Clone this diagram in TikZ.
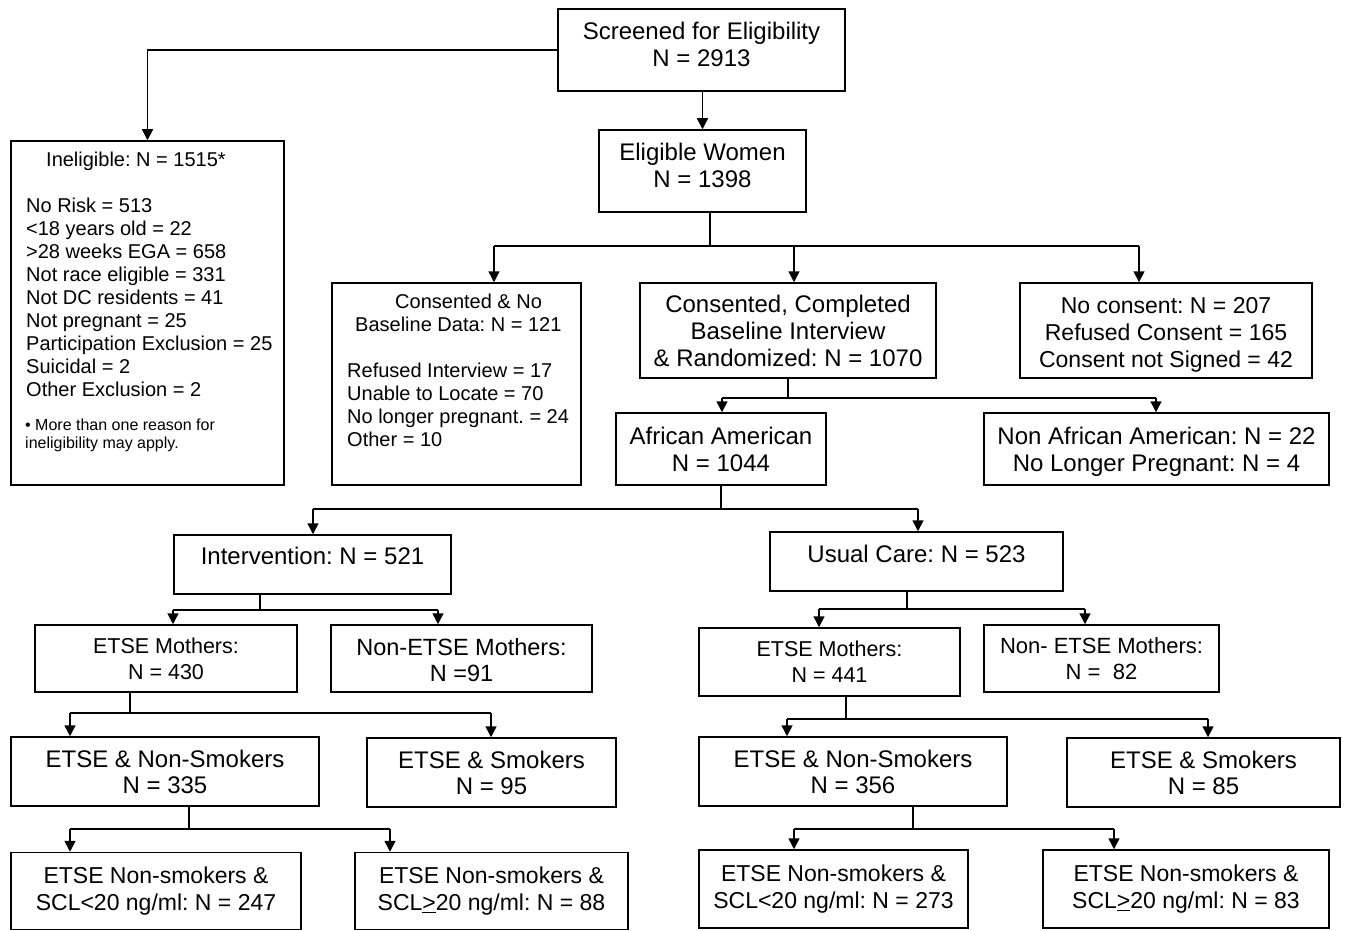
\documentclass[tikz,border=0pt]{standalone}
\usepackage{fontspec}
\setmainfont{Liberation Sans}
\usetikzlibrary{arrows.meta}
\newcommand{\fsz}[2]{\fontsize{#1}{#2}\selectfont}
\tikzset{
 box/.style={draw, line width=1.5pt, rectangle, inner sep=0pt, align=center, font=\fsz{24}{27}},
 btxt/.style={inner sep=0pt, align=center, font=\fsz{24}{27}},
 conn/.style={line width=1.5pt},
 arr/.style={line width=1.5pt, -{Triangle[width=11pt,length=11pt]}},
 txt/.style={inner sep=0pt, anchor=north west, align=left},
}
\begin{document}
\frenchspacing
\begin{tikzpicture}[x=1pt,y=-1pt]
\fill[white] (0,0) rectangle (1346,931);
\useasboundingbox (0,0) rectangle (1346,931);
% boxes
\node[box, minimum width=287pt, minimum height=82pt] (scr) at (701.5,50) {};
\node[btxt] (scrT) at (701.5,44) {Screened for Eligibility\\N = 2913};
\node[box, minimum width=207pt, minimum height=82pt] (elig) at (702.5,171) {};
\node[btxt] (eligT) at (702.5,165) {Eligible Women\\N = 1398};
\node[box, minimum width=273pt, minimum height=344pt] (inel) at (147.5,313) {};
\node[txt, font=\fsz{20}{23}] (ineltext) at (26,152) {\hspace*{20pt}Ineligible: N = 1515*\\[23pt]
No Risk = 513\\
<18 years old = 22\\
>28 weeks EGA = 658\\
Not race eligible = 331\\
Not DC residents = 41\\
Not pregnant = 25\\
Participation Exclusion = 25\\
Suicidal = 2\\
Other Exclusion = 2};
\node[txt, font=\fsz{16}{18}] (inelnote) at (25,419) {\textbullet{} More than one reason for\\ineligibility may apply.};
\node[box, minimum width=249pt, minimum height=202pt] (cnb) at (456.5,384) {};
\node[txt, font=\fsz{20}{23}] (cnbtext) at (347,294) {\hspace*{48pt}Consented \& No\\
\hspace*{8pt}Baseline Data: N = 121\\[23pt]
Refused Interview = 17\\
Unable to Locate = 70\\
No longer pregnant. = 24\\
Other = 10};
\node[box, minimum width=296pt, minimum height=95pt] (ccb) at (788,330.5) {Consented, Completed\\Baseline Interview\\\& Randomized: N = 1070};
\node[box, minimum width=292pt, minimum height=95pt] (nc) at (1166,330.5) {};
\node[btxt, font=\fsz{23}{27}] (ncT) at (1166,334.5) {No consent: N = 207\\Refused Consent = 165\\Consent not Signed = 42};
\node[box, minimum width=210pt, minimum height=72pt] (aa) at (721,449) {African American\\N = 1044};
\node[box, minimum width=345pt, minimum height=72pt] (naa) at (1156.5,449) {};
\node[btxt] (naaT) at (1156.5,451.5) {Non African American: N = 22\\No Longer Pregnant: N = 4};
\node[box, minimum width=277pt, minimum height=59pt] (int) at (312.5,564.5) {};
\node[btxt] (intT) at (312.5,555.5) {Intervention: N = 521};
\node[box, minimum width=293pt, minimum height=59pt] (uc) at (916.5,561.5) {};
\node[btxt] (ucT) at (916.5,553.5) {Usual Care: N = 523};
\node[box, minimum width=262pt, minimum height=67pt, font=\fsz{21.5}{26}] (em1) at (166,658.5) {ETSE Mothers:\\N = 430};
\node[box, minimum width=261pt, minimum height=67pt] (nem1) at (461.5,658.5) {};
\node[btxt, font=\fsz{23.5}{26}] (nem1T) at (461.5,660) {Non-ETSE Mothers:\\N =91};
\node[box, minimum width=261pt, minimum height=68pt, font=\fsz{21.5}{26}] (em2) at (829.5,662) {ETSE Mothers:\\N = 441};
\node[box, minimum width=235pt, minimum height=67pt, font=\fsz{22}{26}] (nem2) at (1101.5,658.5) {Non- ETSE Mothers:\\N = \ 82};
\node[box, minimum width=308pt, minimum height=69pt, font=\fsz{24}{26}] (ns1) at (165,771.5) {ETSE \& Non-Smokers\\N = 335};
\node[box, minimum width=249pt, minimum height=69pt, font=\fsz{24}{26}] (s1) at (491.5,772.5) {ETSE \& Smokers\\N = 95};
\node[box, minimum width=308pt, minimum height=69pt, font=\fsz{24}{26}] (ns2) at (853,771.5) {ETSE \& Non-Smokers\\N = 356};
\node[box, minimum width=273pt, minimum height=69pt, font=\fsz{24}{26}] (s2) at (1203.5,772.5) {ETSE \& Smokers\\N = 85};
\node[box, minimum width=290pt, minimum height=77pt, font=\fsz{23}{27}] (b1) at (156,891) {ETSE Non-smokers \&\\SCL<20 ng/ml: N = 247};
\node[box, minimum width=273pt, minimum height=77pt, font=\fsz{23}{27}] (b2) at (491.5,891) {ETSE Non-smokers \&\\SCL\underline{>}20 ng/ml: N = 88};
\node[box, minimum width=269pt, minimum height=78pt, font=\fsz{23}{27}] (b3) at (833.5,889) {ETSE Non-smokers \&\\SCL<20 ng/ml: N = 273};
\node[box, minimum width=286pt, minimum height=78pt, font=\fsz{23}{27}] (b4) at (1186,889) {ETSE Non-smokers \&\\SCL\underline{>}20 ng/ml: N = 83};
% connectors
\draw[arr] (scr.west) -| (inel.north);
\draw[arr] (scr.south -| elig.north) -- (elig.north);
% T1
\coordinate (t1) at (710,246);
\coordinate (t1a) at (494,246);
\coordinate (t1b) at (794,246);
\coordinate (t1c) at (1139,246);
\draw[conn] (elig.south -| t1) -- (t1);
\draw[conn] (t1a) -- (t1c);
\draw[arr] (t1a) -- (t1a |- cnb.north);
\draw[arr] (t1b) -- (t1b |- ccb.north);
\draw[arr] (t1c) -- (t1c |- nc.north);
% T2
\coordinate (t2a) at (722,398);
\coordinate (t2c) at (1156,398);
\draw[conn] (ccb.south) -- (ccb.south |- t2a);
\draw[conn] (t2a) -- (t2c);
\draw[arr] (t2a) -- (t2a |- aa.north);
\draw[arr] (t2c) -- (t2c |- naa.north);
% T3
\coordinate (t3a) at (313,509);
\coordinate (t3c) at (918,509);
\draw[conn] (aa.south) -- (aa.south |- t3a);
\draw[conn] (t3a) -- (t3c);
\draw[arr] (t3a) -- (t3a |- int.north);
\draw[arr] (t3c) -- (t3c |- uc.north);
% T4
\coordinate (t4) at (260,610);
\coordinate (t4a) at (173,610);
\coordinate (t4c) at (438,610);
\draw[conn] (int.south -| t4) -- (t4);
\draw[conn] (t4a) -- (t4c);
\draw[arr] (t4a) -- (t4a |- em1.north);
\draw[arr] (t4c) -- (t4c |- nem1.north);
% T5
\coordinate (t5) at (907,609);
\coordinate (t5a) at (819,609);
\coordinate (t5c) at (1085,609);
\draw[conn] (uc.south -| t5) -- (t5);
\draw[conn] (t5a) -- (t5c);
\draw[arr] (t5a) -- (t5a |- em2.north);
\draw[arr] (t5c) -- (t5c |- nem2.north);
% T6
\coordinate (t6) at (130,713);
\coordinate (t6a) at (70,713);
\coordinate (t6c) at (491,713);
\draw[conn] (em1.south -| t6) -- (t6);
\draw[conn] (t6a) -- (t6c);
\draw[arr] (t6a) -- (t6a |- ns1.north);
\draw[arr] (t6c) -- (t6c |- s1.north);
% T7
\coordinate (t7) at (846,719);
\coordinate (t7a) at (787,719);
\coordinate (t7c) at (1208,719);
\draw[conn] (em2.south -| t7) -- (t7);
\draw[conn] (t7a) -- (t7c);
\draw[arr] (t7a) -- (t7a |- ns2.north);
\draw[arr] (t7c) -- (t7c |- s2.north);
% T8
\coordinate (t8) at (189,829);
\coordinate (t8a) at (70,829);
\coordinate (t8c) at (390,829);
\draw[conn] (ns1.south -| t8) -- (t8);
\draw[conn] (t8a) -- (t8c);
\draw[arr] (t8a) -- (t8a |- b1.north);
\draw[arr] (t8c) -- (t8c |- b2.north);
% T9
\coordinate (t9) at (913,829);
\coordinate (t9a) at (794,829);
\coordinate (t9c) at (1114,829);
\draw[conn] (ns2.south -| t9) -- (t9);
\draw[conn] (t9a) -- (t9c);
\draw[arr] (t9a) -- (t9a |- b3.north);
\draw[arr] (t9c) -- (t9c |- b4.north);
\end{tikzpicture}
\end{document}
